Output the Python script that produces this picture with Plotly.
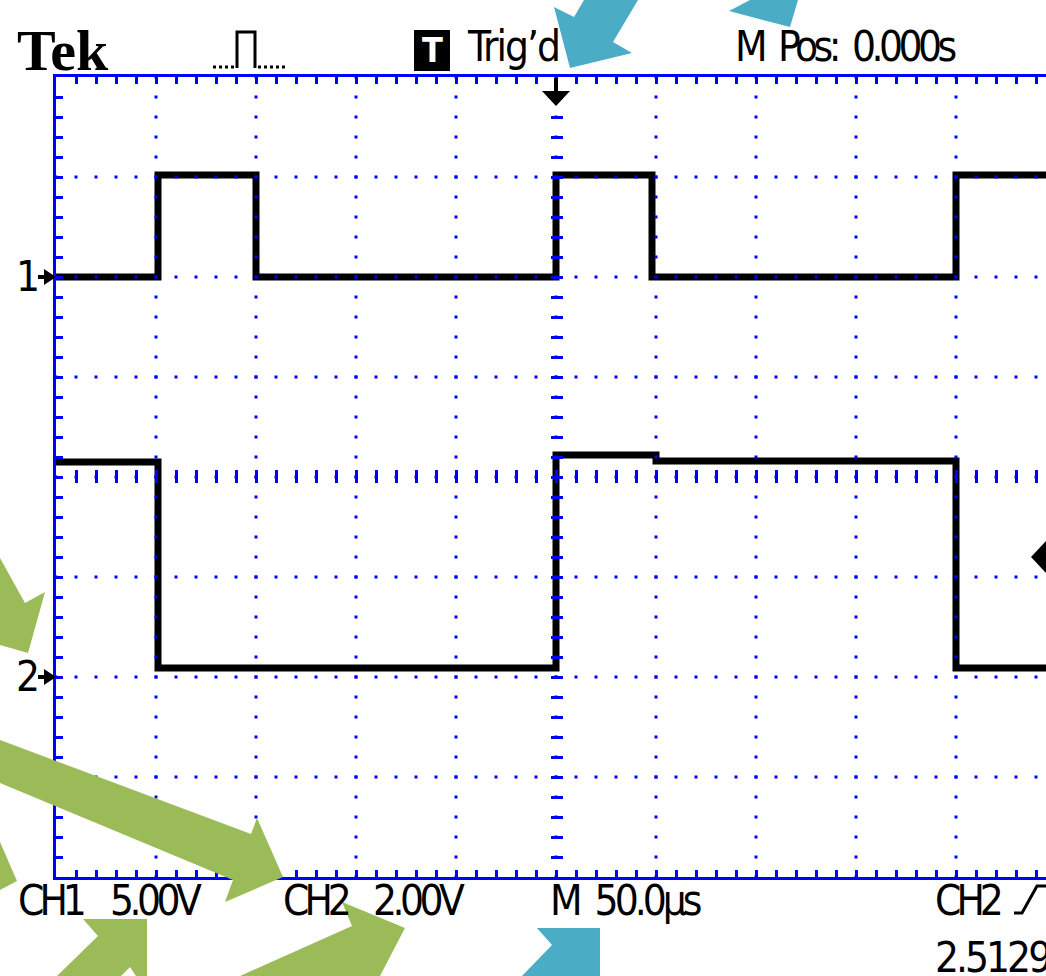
import plotly.graph_objects as go

# ---- acquisition: time in microseconds (trigger at 0), levels in volts ----
ch1_edge_us = [-250, -199, -150, 0, 48, 200]
ch1_level_v = [0.0, 5.1, 0.0, 5.1, 0.0, 5.1]
ch2_edge_us = [-250, -199, 0, 50, 200]
ch2_level_v = [4.3, 0.18, 4.44, 4.32, 0.18]
t_end_us = 245

# ---- scope settings ----
time_per_div_us = 50
ch1_volts_div = 5.0
ch2_volts_div = 2.0
ch1_ground_div = 6
ch2_ground_div = 2
n_ydiv = 8

# ---- readout texts ----
NB = "\u00a0"
top_texts = ["Trig\u2019d", f"M{NB}{NB}Pos:{NB}{NB}0.000s"]
bottom_texts = ["CH1", "5.00V", "CH2", "2.00V", f"M{NB}{NB}50.0\u00b5s", "CH2", "2.51295V"]

BLUE = "#0000ff"
TEAL = "#4bacc6"
GREEN = "#9bbb59"
W, H = 1046, 976
L, T, B = 56, 77, 877
PW, PH = W - L, B - T
SCOPE_FONT = "DejaVu Sans Condensed, Liberation Sans Narrow, Liberation Sans, Arial"


def fx(X):
    return (X - L) / PW


def fy(Y):
    return (B - Y) / PH


def poly(points, closed=True):
    d = "M " + " L ".join(f"{fx(x):.5f},{fy(y):.5f}" for x, y in points)
    return d + (" Z" if closed else "")


ch1_range = [-ch1_ground_div * ch1_volts_div, (n_ydiv - ch1_ground_div) * ch1_volts_div]
ch2_range = [-ch2_ground_div * ch2_volts_div, (n_ydiv - ch2_ground_div) * ch2_volts_div]
x_range = [-5 * time_per_div_us, t_end_us]

fig = go.Figure()
fig.add_trace(go.Scatter(
    x=ch1_edge_us + [t_end_us], y=ch1_level_v + [ch1_level_v[-1]],
    mode="lines", line=dict(color="black", width=7, shape="hv"),
    yaxis="y", showlegend=False, hoverinfo="skip"))
fig.add_trace(go.Scatter(
    x=ch2_edge_us + [t_end_us], y=ch2_level_v + [ch2_level_v[-1]],
    mode="lines", line=dict(color="black", width=7, shape="hv"),
    yaxis="y2", showlegend=False, hoverinfo="skip"))
# carriers for the centre-cross tick axes
fig.add_trace(go.Scatter(x=[], y=[], xaxis="x2", yaxis="y", showlegend=False))
fig.add_trace(go.Scatter(x=[], y=[], xaxis="x", yaxis="y3", showlegend=False))

shapes = []
dot = "1.5px,17px,1.5px,0px"
# dotted graticule, drawn above the traces
for k in range(1, 10):
    t = x_range[0] + k * time_per_div_us
    shapes.append(dict(type="line", xref="x", yref="y", x0=t, x1=t,
                       y0=ch1_range[1], y1=ch1_range[0], layer="above",
                       line=dict(color=BLUE, width=3, dash=dot)))
for k in range(1, n_ydiv):
    v = ch1_range[0] + k * ch1_volts_div
    shapes.append(dict(type="line", xref="x", yref="y", x0=x_range[0], x1=x_range[1],
                       y0=v, y1=v, layer="above",
                       line=dict(color=BLUE, width=3, dash=dot)))


def stroke(points, width=3, dash=None, closed=False):
    line = dict(color="black", width=width)
    if dash:
        line["dash"] = dash
    shapes.append(dict(type="path", xref="paper", yref="paper", layer="above",
                       path=poly(points, closed=closed), line=line))


def fill(points, color="black"):
    shapes.append(dict(type="path", xref="paper", yref="paper", layer="above",
                       path=poly(points), fillcolor=color, line=dict(width=0)))


# trigger-style icon in the header
stroke([(213, 67), (236, 67)], dash="3px,3px")
stroke([(237, 68), (237, 32), (255, 32), (255, 68)])
stroke([(258, 67), (285, 67)], dash="3px,3px")
# "T" status box
shapes.append(dict(type="rect", xref="paper", yref="paper", layer="above",
                   x0=fx(414), x1=fx(450), y0=fy(71), y1=fy(30),
                   fillcolor="black", line=dict(width=0)))
# trigger position marker
stroke([(556, 78), (556, 92)], width=4)
fill([(542, 91), (570, 91), (556, 106)])
# trigger level marker
fill([(1031, 557), (1046, 541), (1046, 573)])
# ground markers
for gy in (277, 677):
    stroke([(38, gy), (47, gy)], width=4)
    fill([(44, gy - 8), (56, gy), (44, gy + 8)])
# rising-edge symbol
stroke([(1014, 913), (1022, 913), (1037, 886), (1047, 886)])

# callout arrows
arrows = [
    (TEAL, [(570, 68), (554, 7), (574, 17), (584, 0), (638, 0), (613, 42), (632, 53)]),
    (TEAL, [(729, 11), (750, 0), (798, 0), (790, 27)]),
    (TEAL, [(537, 928), (600, 928), (600, 976), (522, 976), (552, 945)]),
    (GREEN, [(0, 558), (25, 603), (45, 592), (28, 653), (0, 645)]),
    (GREEN, [(0, 740), (251, 834), (257, 818), (283, 877), (225, 902), (233, 880), (0, 783)]),
    (GREEN, [(0, 842), (17, 881), (0, 890)]),
    (GREEN, [(98, 936), (83, 919), (147, 919), (147, 976), (136, 976), (130, 967), (121, 976), (57, 976)]),
    (GREEN, [(240, 976), (352, 926), (342, 902), (405, 928), (380, 976)]),
]
for color, pts in arrows:
    fill(pts, color)

annotations = []


def label(text, X, Y, size=42, family=SCOPE_FONT, color="black", anchor="left", spacing=None):
    if spacing is not None:
        text = f'<span style="letter-spacing:{spacing}px">{text}</span>'
    annotations.append(dict(text=text, x=fx(X), y=fy(Y), xref="paper", yref="paper",
                            xanchor=anchor, yanchor="middle", showarrow=False,
                            font=dict(family=family, size=size, color=color)))


label("<b>Tek</b>", 15, 50, size=58, family="Liberation Serif, DejaVu Serif")
label("<b>T</b>", 432, 50, size=34, color="white", anchor="center")
label(top_texts[0], 465, 47, spacing=-2)
label(top_texts[1], 733, 47, spacing=-4.5)
label("1", 14, 276, spacing=-4)
label("2", 14, 676, spacing=-4)
label(bottom_texts[0], 16, 900, spacing=-5)
label(bottom_texts[1], 108, 900, spacing=-4.5)
label(bottom_texts[2], 281, 900, spacing=-5)
label(bottom_texts[3], 371, 900, spacing=-4.5)
label(bottom_texts[4], 548, 900, spacing=-4)
label(bottom_texts[5], 933, 900, spacing=-5)
label(bottom_texts[6], 933, 957, spacing=-3)

axis_common = dict(showticklabels=False, zeroline=False, layer="above traces", fixedrange=True)

fig.update_layout(
    width=W, height=H,
    margin=dict(l=L, r=0, t=T, b=H - B, pad=0),
    paper_bgcolor="white", plot_bgcolor="white",
    showlegend=False,
    xaxis=dict(range=x_range, showgrid=False, showline=True, linecolor=BLUE, linewidth=3,
               mirror="allticks", ticks="inside", ticklen=7, tickwidth=3, tickcolor=BLUE,
               dtick=time_per_div_us, tick0=0,
               minor=dict(ticks="inside", ticklen=7, tickwidth=3, tickcolor=BLUE,
                          dtick=time_per_div_us / 5, showgrid=False),
               **axis_common),
    yaxis=dict(range=ch1_range, showgrid=False, showline=True, linecolor=BLUE, linewidth=3,
               ticks="inside", ticklen=7, tickwidth=3, tickcolor=BLUE,
               dtick=ch1_volts_div, tick0=0,
               minor=dict(ticks="inside", ticklen=7, tickwidth=3, tickcolor=BLUE,
                          dtick=ch1_volts_div / 5, showgrid=False),
               **axis_common),
    yaxis2=dict(range=ch2_range, overlaying="y", visible=False, fixedrange=True),
    # centre cross: short marks along the middle horizontal line
    xaxis2=dict(range=x_range, overlaying="x", anchor="free", position=fy(483),
                showgrid=False, showline=False, ticks="inside", ticklen=13, tickwidth=3,
                tickcolor=BLUE, dtick=time_per_div_us / 5, tick0=0, **axis_common),
    # centre cross: short marks along the middle vertical line
    yaxis3=dict(range=ch1_range, overlaying="y", anchor="free", position=fx(550),
                showgrid=False, showline=False, ticks="inside", ticklen=12, tickwidth=3,
                tickcolor=BLUE, dtick=ch1_volts_div / 5, tick0=0, **axis_common),
    shapes=shapes,
    annotations=annotations,
)

fig.write_html("out.html")
